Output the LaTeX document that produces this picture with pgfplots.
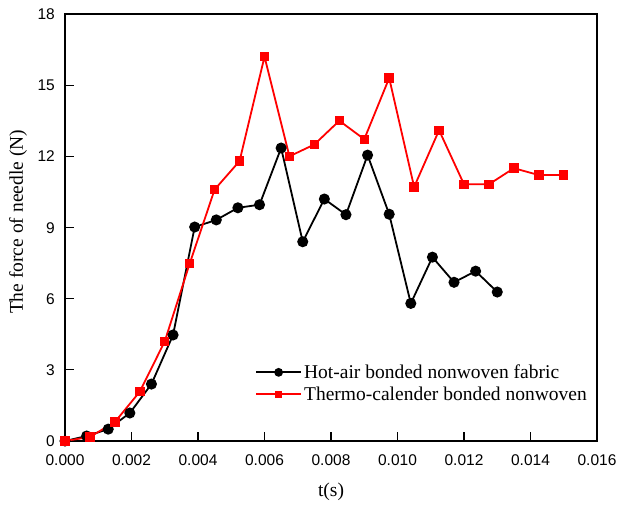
\documentclass[border=0pt]{standalone}
\usepackage{fontspec}
\setmainfont{Liberation Serif}
\newfontfamily\arial{Liberation Sans}
\usepackage{pgfplots}
\pgfplotsset{compat=1.18}
\begin{document}
\begin{tikzpicture}
\begin{axis}[
  at={(0pt,0pt)}, anchor=south west,
  scale only axis, width=532pt, height=427pt,
  xmin=0, xmax=0.016, ymin=0, ymax=18,
  scaled x ticks=false,
  xtick={0,0.002,0.004,0.006,0.008,0.010,0.012,0.014,0.016},
  xticklabels={0.000,0.002,0.004,0.006,0.008,0.010,0.012,0.014,0.016},
  ytick={0,3,6,9,12,15,18},
  xtick pos=bottom, ytick pos=left,
  tick align=inside,
  major tick length=9pt,
  axis line style={line width=1.3pt},
  every tick/.style={line width=1.3pt, black},
  /pgf/number format/assume math mode=true,
  tick label style={font=\arial\fontsize{15.5}{18}\selectfont, inner sep=0pt, text height=11pt, text depth=0pt},
  xticklabel style={anchor=north, yshift=-13pt},
  yticklabel style={anchor=east, xshift=-10pt},
  xlabel={t(s)},
  ylabel={The force of needle (N)},
  label style={font=\fontsize{19.5}{22}\selectfont},
  xlabel style={at={(axis description cs:0.5,-0.1194)}, anchor=center},
  ylabel style={at={(axis description cs:-0.0883,0.513)}, anchor=center},
  legend style={draw=none, fill=none, at={(axis description cs:0.357,0.135)}, anchor=west,
    inner sep=0pt, font=\fontsize{19.5}{22}\selectfont, row sep=3pt,
    nodes={inner sep=2pt}},
  legend cell align=left,
  legend image code/.code={\draw[line width=2pt] (0pt,0pt) -- (45pt,0pt); \draw[only marks, mark options={scale=0.75}] plot coordinates {(22.5pt,0pt)};},
  clip=false,
]
\addplot[black, line width=1.8pt, mark=*, mark size=4.6pt] coordinates {
(0,0) (0.00065,0.21) (0.0013,0.5) (0.00195,1.18) (0.0026,2.4) (0.00325,4.47)
(0.0039,9.02) (0.00455,9.32) (0.0052,9.83) (0.00585,9.96) (0.0065,12.35)
(0.00715,8.4) (0.0078,10.2) (0.00845,9.54) (0.0091,12.05) (0.00975,9.56)
(0.0104,5.8) (0.01105,7.75) (0.0117,6.69) (0.01235,7.16) (0.013,6.28)
};
\addlegendentry{Hot-air bonded nonwoven fabric}
\addplot[red, line width=1.8pt, mark=square*, mark size=3.8pt] coordinates {
(0,0) (0.00075,0.17) (0.0015,0.8) (0.00225,2.08) (0.003,4.2) (0.00375,7.48)
(0.0045,10.6) (0.00525,11.8) (0.006,16.2) (0.00675,12.0) (0.0075,12.5)
(0.00825,13.5) (0.009,12.72) (0.00975,15.3) (0.0105,10.71) (0.01125,13.1)
(0.012,10.82) (0.01275,10.82) (0.0135,11.5) (0.01425,11.21) (0.015,11.21)
};
\addlegendentry{Thermo-calender bonded nonwoven}
\end{axis}
\pgfresetboundingbox
\path[use as bounding box] (-65pt,-65pt) rectangle (552pt,441pt);
\end{tikzpicture}
\end{document}
